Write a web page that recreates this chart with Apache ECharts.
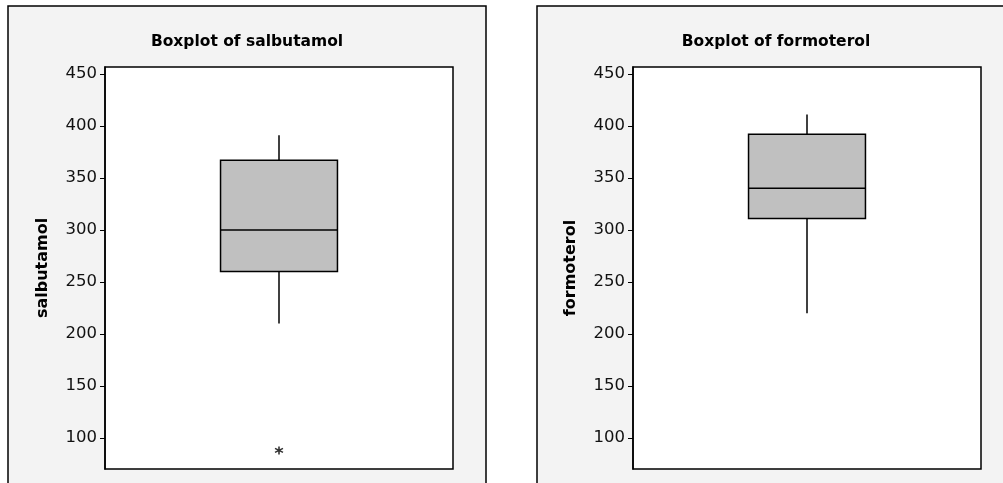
<!DOCTYPE html>
<html>
<head>
<meta charset="utf-8">
<script src="https://cdn.jsdelivr.net/npm/echarts@6/dist/echarts.min.js"></script>
<style>
html,body{margin:0;padding:0;background:#fff;}
#c{width:1003px;height:483px;}
</style>
</head>
<body>
<div id="c"></div>
<script>
// ---- data ----
const categories = ['salbutamol', 'formoterol'];
const titles = ['Boxplot of salbutamol', 'Boxplot of formoterol'];
// [lower whisker, Q1, median, Q3, upper whisker]
const salbutamolBox = [210, 260, 300, 367, 391];
const formoterolBox = [220, 311, 340, 392, 411];
const salbutamolOutliers = [88];
const formoterolOutliers = [];
const tickValues = [100, 150, 200, 250, 300, 350, 400, 450];

const boxes = [salbutamolBox, formoterolBox];
const outliers = [salbutamolOutliers, formoterolOutliers];

const chart = echarts.init(document.getElementById('c'), null, {renderer: 'canvas'});

const panelLefts = [8, 537];
const gridLefts = [105, 633];
const font = 'DejaVu Sans';

function renderBox(params, api) {
  const x = api.value(0);
  const lo = api.coord([x, api.value(1)]);
  const q1 = api.coord([x, api.value(2)]);
  const med = api.coord([x, api.value(3)]);
  const q3 = api.coord([x, api.value(4)]);
  const hi = api.coord([x, api.value(5)]);
  const bw = api.size([1, 0])[0] * 0.336;
  const cx = lo[0];
  const lineStyle = {stroke: '#000', lineWidth: 1.5};
  return {
    type: 'group',
    children: [
      {type: 'line', shape: {x1: cx, y1: hi[1], x2: cx, y2: q3[1]}, style: lineStyle},
      {type: 'line', shape: {x1: cx, y1: q1[1], x2: cx, y2: lo[1]}, style: lineStyle},
      {type: 'rect', shape: {x: cx - bw / 2, y: q3[1], width: bw, height: q1[1] - q3[1]},
        style: {fill: '#c0c0c0', stroke: '#000', lineWidth: 1.5}},
      {type: 'line', shape: {x1: cx - bw / 2, y1: med[1], x2: cx + bw / 2, y2: med[1]}, style: lineStyle}
    ]
  };
}

const option = {
  backgroundColor: '#fff',
  animation: false,
  graphic: panelLefts.map(l => ({
    type: 'rect', z: -100, silent: true,
    shape: {x: l, y: 6, width: 478, height: 500},
    style: {fill: '#f3f3f3', stroke: '#000', lineWidth: 1.5}
  })),
  title: titles.map((t, i) => ({
    text: t, left: panelLefts[i] + 239, top: 34, textAlign: 'center', padding: 0,
    textStyle: {fontFamily: font, fontWeight: 'bold', fontSize: 15.5, color: '#000'}
  })),
  grid: gridLefts.map(l => ({
    left: l, top: 67, width: 348, height: 402,
    show: true, backgroundColor: '#fff', borderColor: '#000', borderWidth: 1.5
  })),
  xAxis: categories.map((c, i) => ({
    type: 'category', gridIndex: i, data: [c], show: false
  })),
  yAxis: categories.map((c, i) => ({
    type: 'value', gridIndex: i, min: 70.1, max: 456.7,
    name: c, nameLocation: 'middle', nameGap: 54,
    nameTextStyle: {fontFamily: font, fontWeight: 'bold', fontSize: 16, color: '#000'},
    axisLine: {show: true, lineStyle: {color: '#000', width: 1.5}},
    axisTick: {show: true, length: 5, customValues: tickValues, lineStyle: {color: '#000', width: 1}},
    axisLabel: {customValues: tickValues, margin: 8, fontFamily: font, fontSize: 16.5, color: '#111'},
    splitLine: {show: false}
  })),
  series: [
    ...categories.map((c, i) => ({
      type: 'custom', xAxisIndex: i, yAxisIndex: i,
      renderItem: renderBox,
      encode: {x: 0, y: [1, 2, 3, 4, 5]},
      data: [[0, ...boxes[i]]]
    })),
    ...categories.map((c, i) => ({
      type: 'scatter', xAxisIndex: i, yAxisIndex: i,
      symbol: 'path://M0,-5L0,5M-4.33,-2.5L4.33,2.5M-4.33,2.5L4.33,-2.5',
      symbolSize: 8,
      itemStyle: {color: 'none', borderColor: '#000', borderWidth: 1.6},
      data: outliers[i].map(v => [0, v])
    }))
  ]
};
chart.setOption(option);
</script>
</body>
</html>
